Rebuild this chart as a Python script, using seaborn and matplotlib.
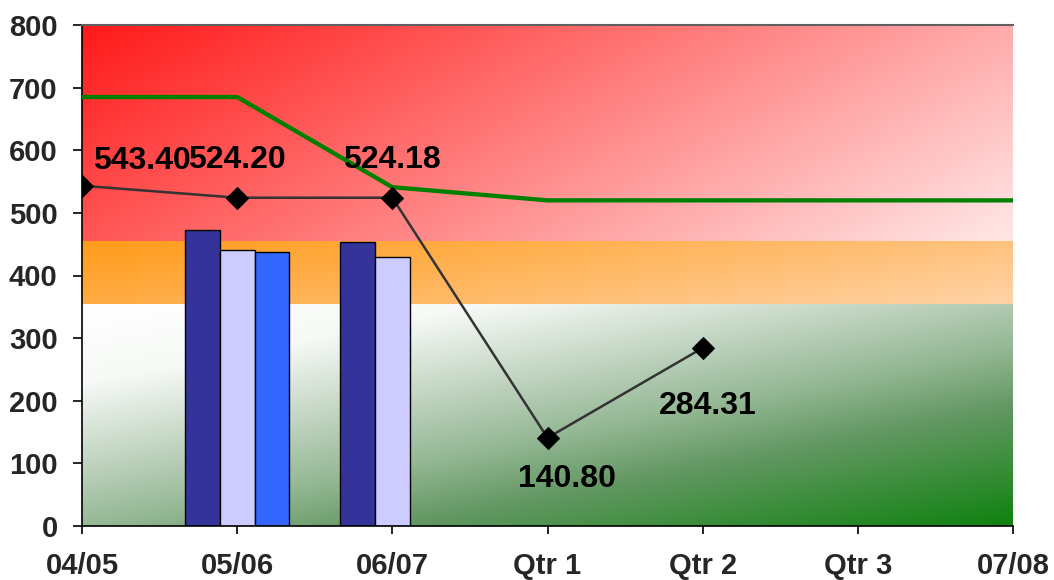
import numpy as np
import pandas as pd
import matplotlib
matplotlib.use("Agg")
import matplotlib.pyplot as plt
import seaborn as sns

# ---- data -------------------------------------------------------------
periods = ["04/05", "05/06", "06/07", "Qtr 1", "Qtr 2", "Qtr 3", "07/08"]

bar_periods = ["05/06", "05/06", "05/06", "06/07", "06/07"]
bar_series = ["Series 1", "Series 2", "Series 3", "Series 1", "Series 2"]
bar_values = [472, 440, 437, 454, 430]

actual_values = [543.40, 524.20, 524.18, 140.80, 284.31]   # 04/05 .. Qtr 2
target_values = [685, 685, 541, 520, 520, 520, 520]          # 04/05 .. 07/08

band_limits = [0, 355, 455, 800]  # green / amber / red zones
y_ticks = [0, 100, 200, 300, 400, 500, 600, 700, 800]

series_order = ["Series 1", "Series 2", "Series 3"]
series_colors = ["#333399", "#CCCCFF", "#3366FF"]

# ---- figure -----------------------------------------------------------
sns.set_style("ticks")
plt.rcParams["font.family"] = ["Liberation Sans", "DejaVu Sans"]
plt.rcParams["font.weight"] = "bold"

fig = plt.figure(figsize=(10.54, 5.80), dpi=100)
ax = fig.add_axes([82 / 1054, 1 - 526 / 580, (1013 - 82) / 1054, (526 - 25) / 580])

bars = pd.DataFrame({"period": bar_periods, "series": bar_series, "value": bar_values})
sns.barplot(data=bars, x="period", y="value", hue="series", order=periods,
            hue_order=series_order, palette=series_colors, saturation=1,
            width=0.672, gap=0, edgecolor="black", linewidth=1.0,
            errorbar=None, legend=False, zorder=2, ax=ax)


def gradient_band(y0, y1, stops, wx, wy):
    """Diagonal colour ramp filling one horizontal zone of the plot."""
    nx, ny = 400, 120
    gx, gy = np.meshgrid(np.linspace(0, 1, nx), np.linspace(0, 1, ny))
    t = np.clip(wx * gx + wy * gy, 0, 1)
    pos = [s[0] for s in stops]
    cols = np.array([s[1] for s in stops], float) / 255
    rgb = np.stack([np.interp(t, pos, cols[:, k]) for k in range(3)], axis=-1)
    ax.imshow(rgb, extent=(0, len(periods) - 1, y0, y1), origin="upper",
              aspect="auto", interpolation="bilinear", zorder=0)


green_stops = [(0.0, (255, 255, 255)), (0.2, (246, 249, 246)),
               (0.45, (178, 202, 178)), (0.55, (150, 185, 150)),
               (0.7, (100, 152, 100)), (1.0, (15, 130, 15))]
amber_stops = [(0.0, (255, 155, 25)), (1.0, (255, 210, 165))]
red_stops = [(0.0, (255, 25, 25)), (1.0, (255, 228, 228))]

gradient_band(band_limits[0], band_limits[1], green_stops, 0.45, 0.55)
gradient_band(band_limits[1], band_limits[2], amber_stops, 0.72, 0.3)
gradient_band(band_limits[2], band_limits[3], red_stops, 0.72, 0.3)

x_target = np.arange(len(target_values))
x_actual = np.arange(len(actual_values))
sns.lineplot(x=x_target, y=target_values, color="#008000", linewidth=3.1,
             zorder=3, ax=ax)
sns.lineplot(x=x_actual, y=actual_values, color="#333333", linewidth=1.8,
             marker="D", markersize=11, markerfacecolor="black",
             markeredgecolor="black", zorder=4, ax=ax)

# value labels (offsets in points)
label_offsets = [(43, 18), (0, 27), (0, 27), (14, -30), (4, -42)]
for i, (v, off) in enumerate(zip(actual_values, label_offsets)):
    ax.annotate(f"{v:.2f}", xy=(i, v), xytext=off, textcoords="offset points",
                ha="center", va="center", fontsize=23, fontweight="bold",
                color="black", zorder=5, annotation_clip=False)

# ---- axes styling -----------------------------------------------------
ax.set_xlim(0, len(periods) - 1)
ax.set_ylim(band_limits[0], band_limits[-1])
ax.set_xticks(range(len(periods)))
ax.set_xticklabels(periods)
ax.set_yticks(y_ticks)
ax.set_xlabel("")
ax.set_ylabel("")
ax.tick_params(axis="both", labelsize=21, width=1.2, color="black",
               direction="out")
ax.tick_params(axis="x", length=6, pad=13)
ax.tick_params(axis="y", length=6.5, pad=11)
for lbl in ax.get_xticklabels() + ax.get_yticklabels():
    lbl.set_fontweight("bold")

ax.spines["right"].set_visible(False)
ax.spines["top"].set_color("#606060")
ax.spines["top"].set_linewidth(1.5)
ax.spines["left"].set_color("black")
ax.spines["left"].set_linewidth(1.2)
ax.spines["bottom"].set_color("black")
ax.spines["bottom"].set_linewidth(1.2)
ax.grid(False)

fig.savefig("out.png", dpi=100)
